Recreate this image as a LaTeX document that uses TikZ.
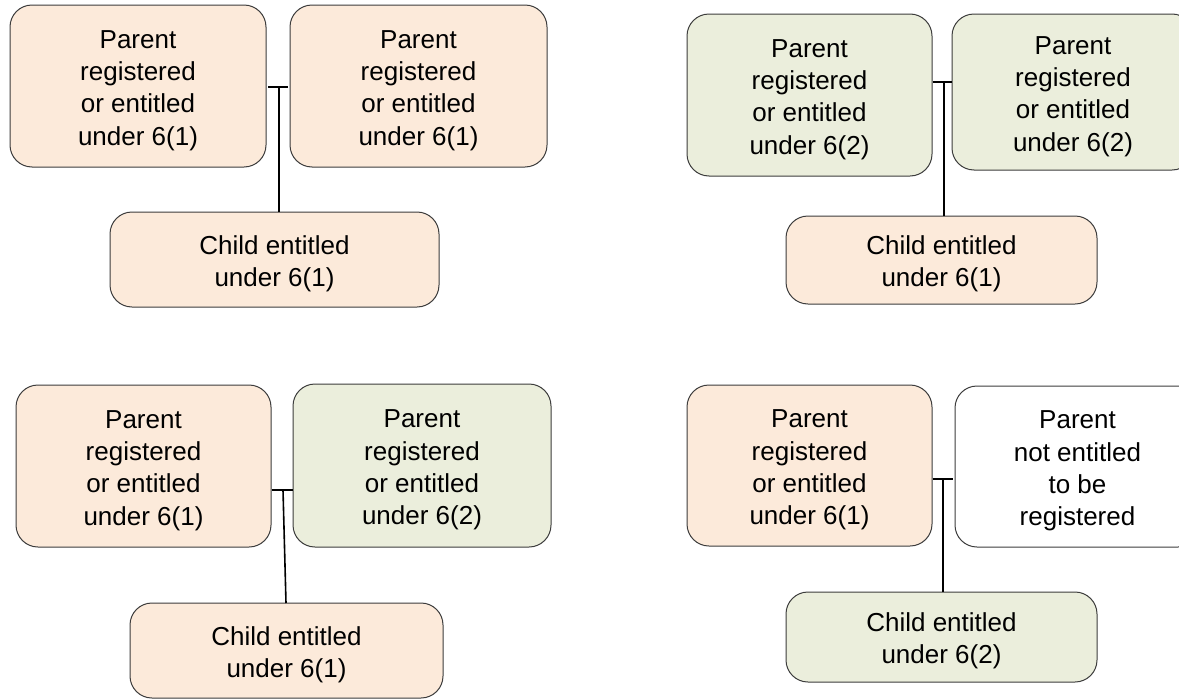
\documentclass[tikz,border=0pt]{standalone}
\usepackage{fontspec}
\setmainfont{Liberation Sans}
\definecolor{peach}{HTML}{FCEADA}
\definecolor{sage}{HTML}{EBEEDC}
\definecolor{edgegray}{HTML}{3C3C3C}
\newcommand{\liftline}{\rule{0pt}{27pt}}
\begin{document}
\begin{tikzpicture}[x=1pt,y=-1pt,
  box/.style={draw=edgegray, line width=1pt, rounded corners=22pt, inner sep=0pt,
    align=center, font=\fontsize{26}{32.3}\selectfont, text=black},
  link/.style={draw=black, line width=1.6pt}]
\useasboundingbox (0,0) rectangle (1179,699);

% Top left
\node[box, fill=peach, minimum width=256pt, minimum height=162pt] (a1) at (138,86) {\liftline Parent\\registered\\or entitled\\under 6(1)};
\node[box, fill=peach, minimum width=257pt, minimum height=162pt] (a2) at (418.5,86) {\liftline Parent\\registered\\or entitled\\under 6(1)};
\node[box, fill=peach, minimum width=329pt, minimum height=95pt] (ac) at (274.5,259.5) {\liftline Child entitled\\under 6(1)};
\coordinate (ja) at (279,87);
\coordinate (jaL) at (268,87);
\coordinate (jaR) at (288,87);
\draw[link] (jaL) -- (jaR);
\draw[link] (ja) -- (ja |- ac.north);

% Top right
\node[box, fill=sage, minimum width=245pt, minimum height=162pt] (b1) at (809.5,95) {\liftline Parent\\registered\\or entitled\\under 6(2)};
\node[box, fill=sage, minimum width=242pt, minimum height=156pt] (b2) at (1073,92) {\liftline Parent\\registered\\or entitled\\under 6(2)};
\node[box, fill=peach, minimum width=311pt, minimum height=88pt] (bc) at (941.5,260) {\liftline Child entitled\\under 6(1)};
\coordinate (jb) at (944,82);
\draw[link] (b1.east |- jb) -- (b2.west |- jb);
\draw[link] (jb) -- (jb |- bc.north);

% Bottom left
\node[box, fill=peach, minimum width=255pt, minimum height=162pt] (c1) at (143.5,466) {\liftline Parent\\registered\\or entitled\\under 6(1)};
\node[box, fill=sage, minimum width=258pt, minimum height=163pt] (c2) at (422,465.5) {\liftline Parent\\registered\\or entitled\\under 6(2)};
\node[box, fill=peach, minimum width=313pt, minimum height=95pt] (cc) at (286.5,650.5) {\liftline Child entitled\\under 6(1)};
\coordinate (jc) at (283,490);
\coordinate (jcb) at (286,603);
\draw[link] (c1.east |- jc) -- (c2.west |- jc);
\draw[link] (jc) -- (jcb);

% Bottom right
\node[box, fill=peach, minimum width=245pt, minimum height=161pt] (d1) at (809.5,465.5) {\liftline Parent\\registered\\or entitled\\under 6(1)};
\node[box, fill=white, minimum width=245pt, minimum height=161pt] (d2) at (1077.5,466.5) {\liftline Parent\\not entitled\\to be\\registered};
\node[box, fill=sage, minimum width=311pt, minimum height=90pt] (dc) at (941.5,637) {\liftline Child entitled\\under 6(2)};
\coordinate (jd) at (943,479);
\coordinate (jdR) at (953,479);
\draw[link] (d1.east |- jd) -- (jdR);
\draw[link] (jd) -- (jd |- dc.north);
\end{tikzpicture}
\end{document}
